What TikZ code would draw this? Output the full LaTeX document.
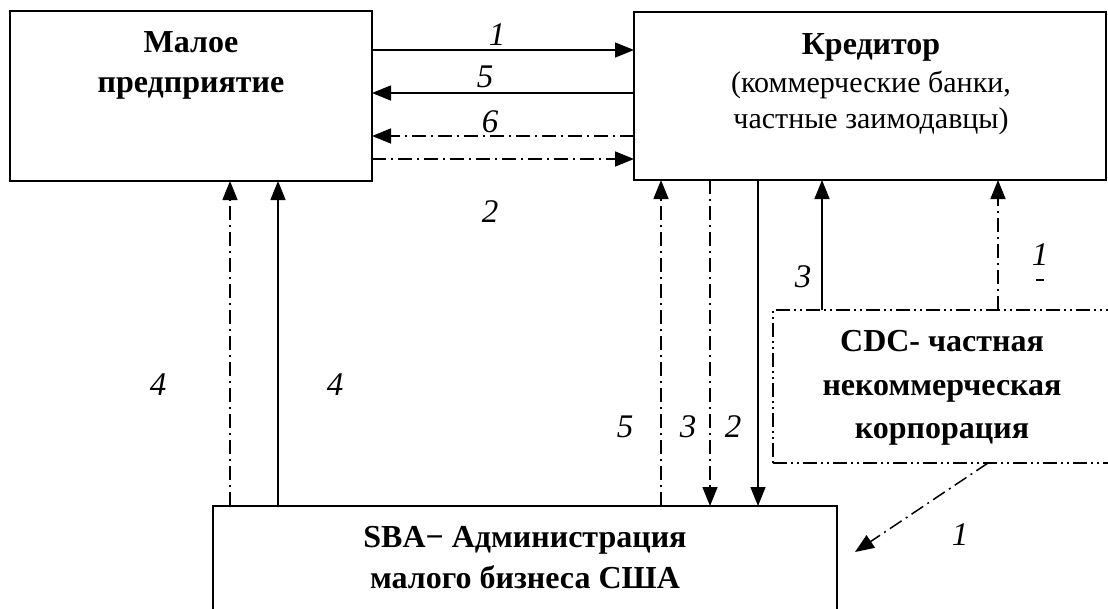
\documentclass[tikz,border=0pt]{standalone}
\usepackage{fontspec}
\setmainfont{Liberation Serif}
\usetikzlibrary{arrows.meta}
\begin{document}
\begin{tikzpicture}[x=1pt,y=-1pt,line width=1.5pt,
  box/.style={draw,line width=1.8pt,inner sep=0pt,outer sep=0pt},
  dd/.style={dash pattern=on 14pt off 5pt on 2pt off 5pt},
  ddd/.style={dash pattern=on 14pt off 4pt on 2pt off 4pt on 2pt off 4pt},
  arr/.style={-{Triangle[length=19pt,width=15pt]}},
  lab/.style={font=\fontsize{33}{33}\selectfont\itshape,inner sep=0pt,anchor=center},
  bt/.style={font=\fontsize{32}{32}\selectfont\bfseries,inner sep=0pt,anchor=base},
  rt/.style={font=\fontsize{30}{30}\selectfont,inner sep=0pt,anchor=base}]
\useasboundingbox (0,0) rectangle (1108,608);
% boxes
\node[box,minimum width=362pt,minimum height=170pt] (mp) at (191,96) {};
\node[box,minimum width=472pt,minimum height=168pt] (kr) at (870,96) {};
\node[box,minimum width=624pt,minimum height=120pt] (sba) at (525,566) {};
\node[box,ddd,minimum width=352pt,minimum height=153pt] (cdc) at (949,386.5) {};
% texts
\node[bt] (mp1) at (191,52) {Малое};
\node[bt] (mp2) at (191,92) {предприятие};
\node[bt] (kr1) at (871,54) {Кредитор};
\node[rt] (kr2) at (871,92) {(коммерческие банки,};
\node[rt] (kr3) at (871,128) {частные заимодавцы)};
\node[bt] (cdc1) at (942,351) {CDC- частная};
\node[bt] (cdc2) at (942,395) {некоммерческая};
\node[bt] (cdc3) at (942,438) {корпорация};
\node[bt] (sba1) at (525,547) {SBA− Администрация};
\node[bt] (sba2) at (525,588) {малого бизнеса США};
% horizontal connectors
\draw[arr] (mp.east|-0,50) -- (kr.west|-0,50);
\draw[arr] (kr.west|-0,93) -- (mp.east|-0,93);
\draw[arr,dd] (kr.west|-0,136) -- (mp.east|-0,136);
\draw[arr,dd] (mp.east|-0,159) -- (kr.west|-0,159);
% SBA -> Малое
\draw[arr,dd] (sba.north-|230,0) -- (mp.south-|230,0);
\draw[arr] (sba.north-|278,0) -- (mp.south-|278,0);
% SBA <-> Кредитор
\draw[arr,dd] (sba.north-|661,0) -- (kr.south-|661,0);
\draw[arr,dd] (kr.south-|710,0) -- (sba.north-|710,0);
\draw[arr] (kr.south-|758,0) -- (sba.north-|758,0);
% CDC -> Кредитор
\draw[arr] (cdc.north-|822,0) -- (kr.south-|822,0);
\draw[arr,dd] (cdc.north-|998,0) -- (kr.south-|998,0);
% CDC -> SBA
\coordinate (d1) at (855,552);
\draw[arr,dd] (cdc.south-|988,0) -- (d1);
% labels
\node[lab] (l1) at (497,35) {1};
\node[lab] (l5) at (485,77) {5};
\node[lab] (l6) at (490,122) {6};
\node[lab] (l2) at (490,212) {2};
\node[lab] (l4a) at (158,385) {4};
\node[lab] (l4b) at (335,385) {4};
\node[lab] (l5b) at (625,427) {5};
\node[lab] (l3b) at (688,427) {3};
\node[lab] (l2b) at (733,427) {2};
\node[lab] (l3c) at (803,277) {3};
\node[lab] (l1c) at (1040,255) {1};
\draw[line width=1.5pt] (1036,280) -- (1044,280);
\node[lab] (l1d) at (960,535) {1};
\end{tikzpicture}
\end{document}
